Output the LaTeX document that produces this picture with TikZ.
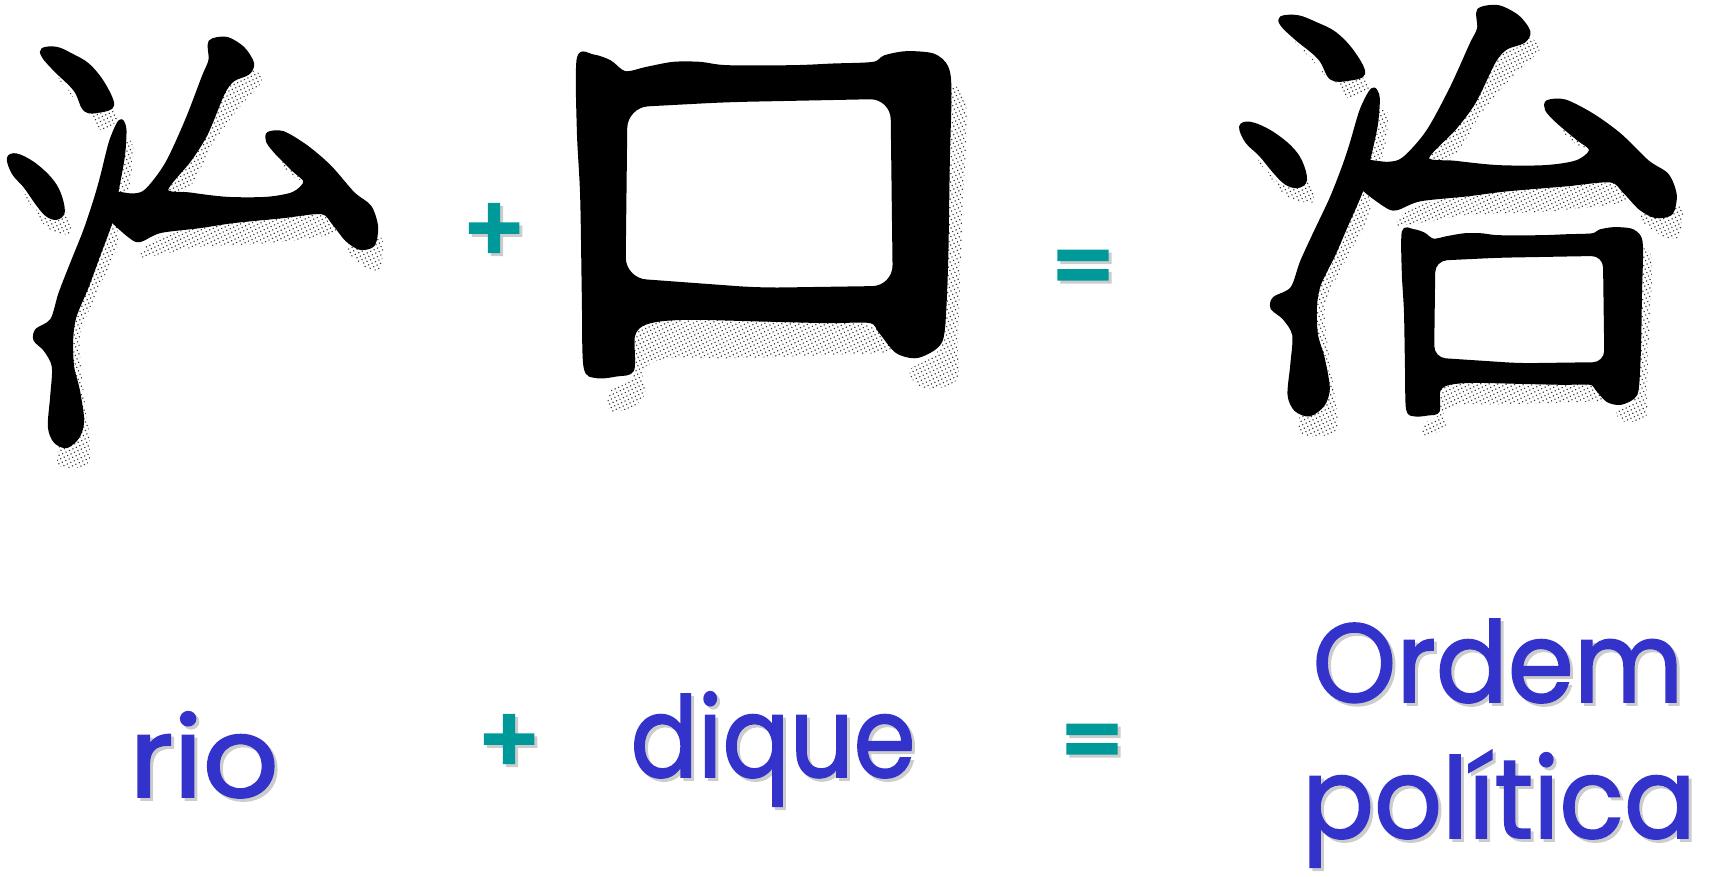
\documentclass[tikz,border=0pt]{standalone}
\usepackage{fontspec}
\setmainfont{Poppins}
\newfontfamily\wordfont{Poppins}[AutoFakeBold=1.6]
\newfontfamily\signfont{Poppins}[AutoFakeBold=5]
\usetikzlibrary{patterns.meta}
\definecolor{WordBlue}{RGB}{51,51,204}
\definecolor{SignTeal}{RGB}{0,153,153}
\tikzset{
  ink/.style    ={fill=black, draw=black, line width=3pt, line join=round},
  stipple/.style={draw=none, pattern={Dots[distance=3.8pt,radius=.8pt,angle=25]}, pattern color=black!80},
  word/.style   ={text=WordBlue, anchor=base, inner sep=0pt, font=\fontsize{112}{120}\wordfont\bfseries},
  wordsh/.style ={word, text=black!20},
  sign/.style   ={text=SignTeal, anchor=center, inner sep=0pt, font=\fontsize{90}{96}\signfont\bfseries},
  signsh/.style ={sign, text=black!20},
}
% the water radical with the upper part, traced
\newcommand{\riverstrokes}{
  \fill[stipple] plot[smooth cycle,tension=.5] coordinates {(155,120)(200,170)(250,240)(330,235)(355,270)(300,300)(275,260)(230,215)};
  \fill[stipple] plot[smooth cycle,tension=.5] coordinates {(50,455)(130,560)(190,530)(212,610)(150,600)(115,560)};
  \fill[stipple] plot[smooth cycle,tension=.5] coordinates {(375,340)(400,350)(385,480)(345,480)};
  \fill[stipple] plot[smooth cycle,tension=.5] coordinates {(330,580)(355,640)(290,790)(240,920)(250,1080)(270,1290)(180,1310)(175,1250)(200,1000)(240,760)};
  \fill[stipple] plot[smooth cycle,tension=.5] coordinates {(760,120)(785,155)(720,230)(640,340)(570,470)(500,490)(540,400)(620,270)(680,150)};
  \fill[stipple] plot[smooth cycle,tension=.5] coordinates {(420,680)(480,620)(700,570)(980,555)(1000,610)(800,640)(600,650)(500,670)};
  \fill[stipple] plot[smooth cycle,tension=.5] coordinates {(1040,655)(1130,620)(1150,640)(1140,715)(1100,715)};
  \fill[stipple] plot[smooth cycle,tension=.5] coordinates {(845,400)(870,390)(915,450)(880,440)};
  \filldraw[ink] plot[smooth cycle,tension=.6] coordinates {(128,58)(170,55)(215,75)(265,105)(310,160)(338,225)(300,243)(255,240)(225,180)(165,120)(130,80)};
  \filldraw[ink] plot[smooth cycle,tension=.6] coordinates {(25,385)(50,375)(100,400)(150,445)(178,490)(190,545)(170,565)(140,555)(110,520)(75,470)(40,430)};
  \filldraw[ink] plot[smooth cycle,tension=.5] coordinates {(365,272)(375,300)(370,380)(352,480)(335,570)(295,680)(262,770)(225,860)(215,930)(218,1010)(235,1080)(248,1170)(235,1220)(200,1250)(165,1235)(148,1190)(155,1100)(160,1010)(135,960)(105,930)(110,900)(155,870)(180,790)(215,700)(255,600)(285,510)(305,440)(330,340)(352,285)};
  \filldraw[ink] plot[smooth cycle,tension=.5] coordinates {(630,35)(680,25)(730,55)(758,100)(745,130)(700,150)(670,190)(620,310)(570,390)(500,480)(570,492)(680,505)(800,505)(880,490)(915,455)(880,420)(830,370)(803,335)(805,310)(850,308)(920,350)(990,410)(1060,490)(1110,530)(1130,590)(1120,645)(1080,655)(1040,630)(1000,580)(965,548)(850,560)(700,575)(600,590)(480,605)(420,632)(390,620)(330,565)(325,530)(335,490)(400,495)(440,480)(500,400)(560,270)(610,140)(630,90)};
}
% the square with its shading, #1 is the corner of the inner hole
\newcommand{\dikestrokes}[1]{
  \fill[stipple] plot[smooth cycle,tension=.5] coordinates {(1170,200)(1220,230)(1210,500)(1195,900)(1190,1050)(1090,1075)(1050,1020)(1140,950)(1150,700)};
  \fill[stipple] plot[smooth cycle,tension=.5] coordinates {(230,900)(300,870)(900,880)(1000,960)(800,975)(500,985)(320,985)(250,1020)(255,1090)(220,1130)(150,1145)(150,1085)(220,1040)};
  \filldraw[ink,even odd rule] plot[smooth cycle,tension=.5] coordinates {(55,85)(100,78)(150,95)(195,128)(260,115)(340,100)(420,100)(500,110)(700,110)(820,105)(940,100)(975,80)(1040,68)(1120,75)(1160,110)(1170,180)(1165,400)(1160,700)(1150,900)(1130,950)(1070,980)(1010,965)(960,905)(930,875)(800,875)(600,870)(400,865)(300,870)(245,885)(220,920)(218,1020)(170,1035)(110,1040)(75,1010)(70,800)(65,500)(55,300)}
    {[rounded corners=#1] (198,228) -- (500,212) -- (996,202) -- (1003,772) -- (600,778) -- (192,748) -- cycle};
}
\begin{document}
\begin{tikzpicture}[x=1pt,y=-1pt]
  \useasboundingbox (0,0) rectangle (1710,877);
  \begin{scope}[shift={(0,30)},x=.3333pt,y=-.3333pt] \riverstrokes \end{scope}
  \begin{scope}[shift={(560,30)},x=.3333pt,y=-.3333pt] \dikestrokes{22pt} \end{scope}
  \begin{scope}[shift={(1230.8,-1.7)},x=.3933pt,y=-.3333pt] \riverstrokes \end{scope}
  \begin{scope}[shift={(1391.55,215.6)},x=.2137pt,y=-.1917pt] \dikestrokes{13pt} \end{scope}
  % shadows first
  \foreach \nm/\px/\py/\sx/\tx in {rio/204/797/1.06/rio,dique/773/777/.89/dique,ordem/1498/702/.95/Ordem,politica/1499/838/.95/política}{
    \node[wordsh] (\nm sh) at (\px+3,\py+3) {\scalebox{\sx}[1]{\tx}};
    \node[word] (\nm) at (\px,\py) {\scalebox{\sx}[1]{\tx}};}
  \foreach \nm/\px/\py/\tx in {plusa/494/233/+,eqa/1083/275/=,plusb/509/744/+,eqb/1092/749/=}{
    \node[signsh] (\nm sh) at (\px+3,\py+3) {\tx};
    \node[sign] (\nm) at (\px,\py) {\tx};}
\end{tikzpicture}
\end{document}
